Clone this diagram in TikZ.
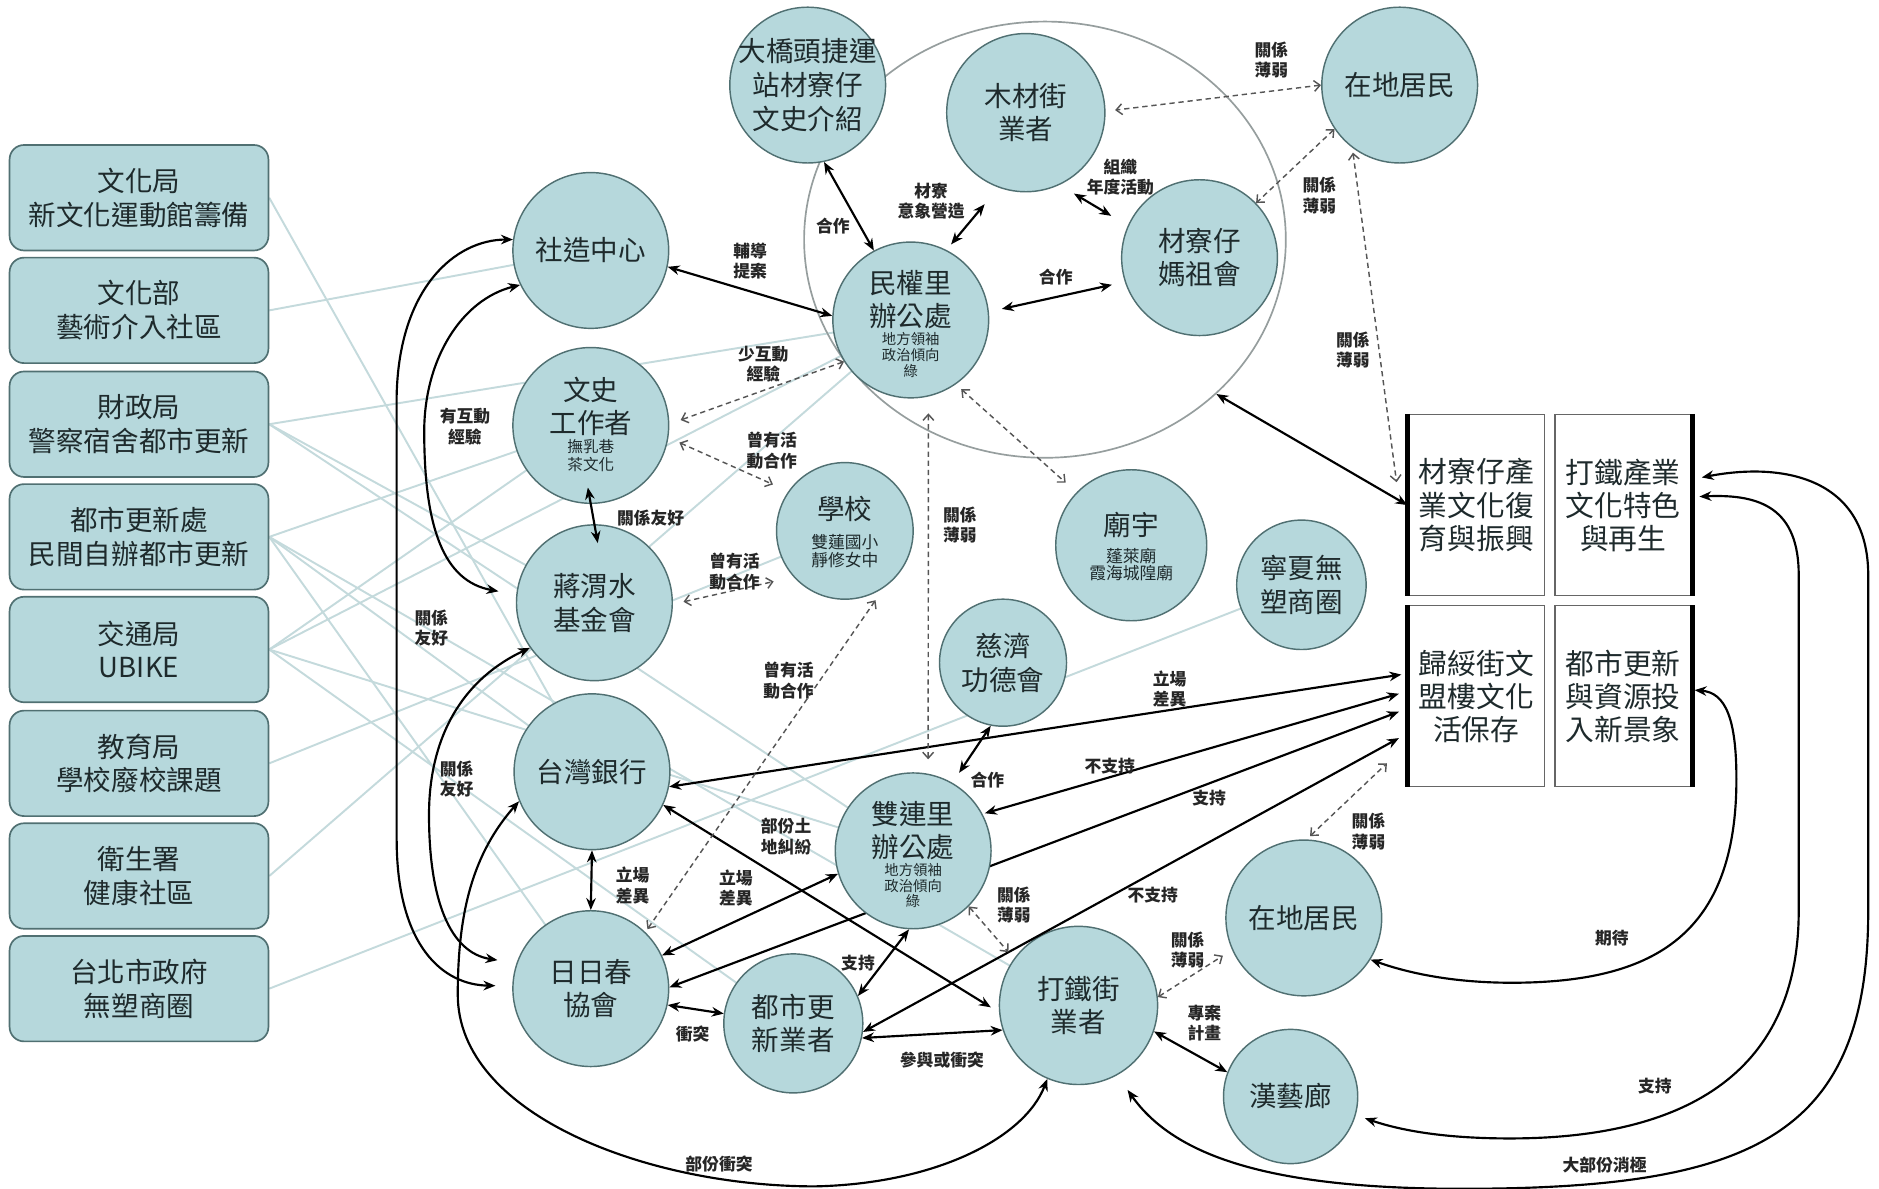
\documentclass[tikz,border=0pt]{standalone}
\usepackage{fontspec}
\setmainfont{Noto Sans CJK TC}
\usetikzlibrary{arrows.meta,backgrounds,shapes.geometric}
\definecolor{cfill}{RGB}{182,216,220}
\definecolor{cdraw}{RGB}{80,112,114}
\definecolor{gline}{RGB}{196,218,220}
\definecolor{ellc}{RGB}{150,158,158}
\definecolor{txt}{RGB}{30,42,44}
\definecolor{dcol}{RGB}{85,85,85}
\begin{document}
\begin{tikzpicture}[x=0.5pt,y=-0.5pt,
  >={Stealth[length=5pt,width=4pt]},
  circ/.style={circle,draw=cdraw,fill=cfill,line width=0.6pt,minimum size=65pt,inner sep=0pt},
  lab/.style={font=\fontsize{11.5}{14}\selectfont,align=center,text=txt,inner sep=0pt},
  sub/.style={font=\fontsize{6}{6.6}\selectfont,align=center,text=txt,inner sep=0pt},
  elab/.style={font=\fontsize{7}{8.5}\selectfont\bfseries,align=center,text=black!85,inner sep=0pt},
  lbox/.style={rectangle,rounded corners=6pt,draw=cdraw,fill=cfill,line width=0.7pt,minimum width=108pt,minimum height=44pt,inner sep=0pt,align=center,font=\fontsize{11.5}{14}\selectfont,text=txt},
  rbox/.style={rectangle,draw=black!60,line width=0.6pt,fill=white,minimum width=57pt,minimum height=75.5pt,inner sep=0pt,align=center,font=\fontsize{12}{13.8}\selectfont,text=txt},
  arr/.style={black,line width=0.9pt,<->},
  darr/.style={dcol,line width=0.6pt,dash pattern=on 2.2pt off 1.6pt,{Straight Barb[length=2.5pt,width=4.5pt]}-{Straight Barb[length=2.5pt,width=4.5pt]}},
  gl/.style={gline,line width=0.8pt}]
\useasboundingbox (0,0) rectangle (1568,992);

% big ellipse
\node[ellipse,draw=ellc,line width=0.7pt,minimum width=201pt,minimum height=182pt,inner sep=0pt] (bigell) at (872,200) {};

% left boxes
\node[lbox] (b1) at (116,165) {文化局\\新文化運動館籌備};
\node[lbox] (b2) at (116,259) {文化部\\藝術介入社區};
\node[lbox] (b3) at (116,354) {財政局\\警察宿舍都市更新};
\node[lbox] (b4) at (116,448) {都市更新處\\民間自辦都市更新};
\node[lbox] (b5) at (116,542) {交通局\\UBIKE};
\node[lbox] (b6) at (116,637) {教育局\\學校廢校課題};
\node[lbox] (b7) at (116,731) {衛生署\\健康社區};
\node[lbox] (b8) at (116,825) {台北市政府\\無塑商圈};

% circles
\node[circ,label={[lab]center:{大橋頭捷運\\站材寮仔\\文史介紹}}] (dqt) at (674,71) {};
\node[circ,minimum size=66pt,label={[lab]center:{木材街\\業者}}] (mcj) at (856,94) {};
\node[circ,label={[lab]center:{在地居民}}] (zdjm) at (1168,71) {};
\node[circ,label={[lab]center:{社造中心}}] (szzx) at (493,209) {};
\node[circ,label={[lab,yshift=8.5pt]center:{民權里\\辦公處}},label={[sub,yshift=-14.5pt]center:{地方領袖\\政治傾向\\綠}}] (mql) at (760,267) {};
\node[circ,label={[lab]center:{材寮仔\\媽祖會}}] (mzh) at (1001,215) {};
\node[circ,label={[lab,yshift=8pt]center:{文史\\工作者}},label={[sub,font=\fontsize{6.5}{7.5}\selectfont,yshift=-12.5pt]center:{撫乳巷\\茶文化}}] (wszzz) at (493,355) {};
\node[circ,label={[lab]center:{蔣渭水\\基金會}}] (jwj) at (496,503) {};
\node[circ,minimum size=57pt,label={[lab,yshift=9pt]center:{學校}},label={[sub,font=\fontsize{7}{7.2}\selectfont,yshift=-8.5pt]center:{雙蓮國小\\靜修女中}}] (school) at (705,443) {};
\node[circ,minimum size=63pt,label={[lab,yshift=8.5pt]center:{廟宇}},label={[sub,font=\fontsize{7}{7.2}\selectfont,yshift=-8pt]center:{蓬萊廟\\霞海城隍廟}}] (miao) at (944,455) {};
\node[circ,minimum size=54pt,label={[lab]center:{寧夏無\\塑商圈}}] (ningxia) at (1086,488) {};
\node[circ,minimum size=53pt,label={[lab]center:{慈濟\\功德會}}] (cj) at (837,553) {};
\node[circ,label={[lab]center:{台灣銀行}}] (tw) at (494,644) {};
\node[circ,label={[lab,yshift=8.5pt]center:{雙連里\\辦公處}},label={[sub,yshift=-14.5pt]center:{地方領袖\\政治傾向\\綠}}] (sllb) at (762,710) {};
\node[circ,label={[lab]center:{日日春\\協會}}] (rrc) at (493,825) {};
\node[circ,minimum size=58pt,label={[lab]center:{都市更\\新業者}}] (dsgx) at (662,854) {};
\node[circ,minimum size=66pt,label={[lab]center:{打鐵街\\業者}}] (dtj) at (900,839) {};
\node[circ,label={[lab]center:{在地居民}}] (zdjm2) at (1088,766) {};
\node[circ,minimum size=56pt,label={[lab]center:{漢藝廊}}] (hyl) at (1077,915) {};

% right boxes
\node[rbox] (r1) at (1232,421.5) {材寮仔產\\業文化復\\育與振興};
\node[rbox] (r2) at (1354.5,421.5) {打鐵產業\\文化特色\\與再生};
\node[rbox] (r3) at (1232,581) {歸綏街文\\盟樓文化\\活保存};
\node[rbox] (r4) at (1354.5,581) {都市更新\\與資源投\\入新景象};
\draw[line width=2.2pt] (r1.north west) -- (r1.south west);
\draw[line width=2.2pt] (r3.north west) -- (r3.south west);
\draw[line width=2.2pt] (r2.north east) -- (r2.south east);
\draw[line width=2.2pt] (r4.north east) -- (r4.south east);

% solid connectors
\draw[arr] (szzx.-12) -- (mql.177);
\draw[arr] (dqt.-78) -- (mql.118);
\draw[arr,shorten <=3pt,shorten >=9pt] (mql.63) -- (mcj.-110);
\draw[arr,shorten <=7pt,shorten >=8pt] (mcj.-65) -- (mzh.156);
\draw[arr,shorten <=5.5pt,shorten >=5.5pt] (mql.6) -- (mzh.-162);
\draw[arr] (bigell.-42) -- (r1.west);
\draw[arr,shorten <=-7pt,shorten >=-8pt] (wszzz.south) -- (jwj.north);
\draw[arr] (tw.south) -- (rrc.north);
\draw[arr] (tw.-11) -- ([shift={(-2.5pt,-29pt)}]r3.north west);
\draw[arr,shorten <=1pt] (sllb.28) -- ([shift={(-3.5pt,-37pt)}]r3.north west);
\draw[arr] (sllb.-163) -- (rrc.25);
\draw[arr] (dsgx.-7) -- ([shift={(-3.5pt,-55.5pt)}]r3.north west);
\draw[arr,shorten >=4pt] (tw.-25) -- (dtj.-175);
\draw[arr,shorten <=5pt] (sllb.60) -- (cj.-101);
\draw[arr] (sllb.-93) -- (dsgx.23);
\draw[arr] (rrc.-12) -- (dsgx.172);
\draw[arr] (dsgx.-12) -- (dtj.-162);
\draw[arr] (dtj.-19) -- (hyl.159);

% dashed connectors
\draw[darr,shorten >=4pt] (zdjm.180) -- (mcj.1);
\draw[darr] (zdjm.-146) -- (mzh.44);
\draw[darr,shorten <=2pt] (zdjm.-127) -- ([shift={(-4.5pt,-28.5pt)}]r1.north west);
\draw[darr,shorten >=5pt] (mql.-148) -- (wszzz.1);
\draw[darr,shorten <=5pt,shorten >=7pt] (wszzz.-9) -- (school.145);
\draw[darr,shorten <=7pt,shorten >=6pt] (mql.-77) -- (sllb.79);
\draw[darr,shorten <=3pt,shorten >=6pt] (mql.-55) -- (miao.136);
\draw[darr,shorten <=4.5pt,shorten >=8.5pt] (jwj.-1) -- (school.-138);
\draw[darr,shorten <=1.5pt,shorten >=6.5pt] (rrc.46) -- (school.-55);
\draw[darr,shorten >=3.5pt] (sllb.-45) -- (dtj.144);
\draw[darr,shorten >=4.5pt] (dtj.6) -- (zdjm2.-156);
\draw[darr,shorten <=2pt] (zdjm2.88) -- ([shift={(-8.5pt,-66pt)}]r3.north west);

% curved connectors
\draw[arr,shorten >=7pt] (szzx.172) .. controls (380,200) and (333,240) .. (331,330) -- (331,700) .. controls (331,790) and (370,822) .. (rrc.178);
\draw[arr,shorten >=7.5pt] (szzx.-154) .. controls (385,250) and (354,300) .. (354,360) .. controls (354,440) and (370,485) .. (jwj.174);
\draw[arr,shorten >=8pt] (jwj.-145) .. controls (390,565) and (358,610) .. (358,680) .. controls (358,750) and (375,795) .. (rrc.161);
\draw[arr] (tw.-158) .. controls (395,712) and (382,760) .. (382,830) .. controls (382,930) and (540,990) .. (680,990) .. controls (780,988) and (855,950) .. (dtj.-113);
\draw[arr,shorten >=7.5pt] ([shift={(4pt,-26.5pt)}]r2.north east) .. controls (1490,385) and (1559,400) .. (1559,480) -- (1559,760) .. controls (1559,950) and (1460,992) .. (1220,992) .. controls (1060,992) and (980,965) .. (dtj.-61);
\draw[arr,shorten >=4pt] ([shift={(3pt,-34.5pt)}]r2.north east) .. controls (1470,412) and (1501,425) .. (1501,480) -- (1501,760) .. controls (1501,900) and (1400,950) .. (1260,950) .. controls (1200,950) and (1165,942) .. (hyl.-16);
\draw[arr] ([shift={(1pt,-35.5pt)}]r4.north east) .. controls (1440,578) and (1449,600) .. (1449,650) .. controls (1449,780) and (1380,818) .. (1270,820) .. controls (1215,821) and (1175,812) .. (zdjm2.-32);

% edge labels
\node[elab] (e1) at (626,218) {輔導\\提案};
\node[elab] (e2) at (695,189) {合作};
\node[elab] (e3) at (777,168) {材寮\\意象營造};
\node[elab] (e4) at (935,148) {組織\\年度活動};
\node[elab] (e5) at (881,231) {合作};
\node[elab] (e6) at (1061,50) {關係\\薄弱};
\node[elab] (e7) at (1101,163) {關係\\薄弱};
\node[elab] (e8) at (1129,292) {關係\\薄弱};
\node[elab] (e9) at (637,304) {少互動\\經驗};
\node[elab] (e10) at (644,376) {曾有活\\動合作};
\node[elab] (e11) at (543,432) {關係友好};
\node[elab] (e12) at (388,356) {有互動\\經驗};
\node[elab] (e13) at (360,524) {關係\\友好};
\node[elab] (e14) at (381,650) {關係\\友好};
\node[elab] (e15) at (613,477) {曾有活\\動合作};
\node[elab] (e16) at (658,568) {曾有活\\動合作};
\node[elab] (e17) at (801,438) {關係\\薄弱};
\node[elab] (e18) at (976,575) {立場\\差異};
\node[elab] (e19) at (926,639) {不支持};
\node[elab] (e20) at (1009,666) {支持};
\node[elab] (e21) at (962,747) {不支持};
\node[elab] (e22) at (1142,694) {關係\\薄弱};
\node[elab] (e23) at (656,698) {部份土\\地糾紛};
\node[elab] (e24) at (824,651) {合作};
\node[elab] (e25) at (528,739) {立場\\差異};
\node[elab] (e26) at (614,741) {立場\\差異};
\node[elab] (e27) at (716,804) {支持};
\node[elab] (e28) at (846,755) {關係\\薄弱};
\node[elab] (e29) at (578,863) {衝突};
\node[elab] (e30) at (786,885) {參與或衝突};
\node[elab] (e31) at (600,971) {部份衝突};
\node[elab] (e32) at (991,793) {關係\\薄弱};
\node[elab] (e33) at (1005,854) {專案\\計畫};
\node[elab] (e34) at (1345,783) {期待};
\node[elab] (e35) at (1381,906) {支持};
\node[elab] (e36) at (1339,972) {大部份消極};

% background: white, light grey links from the left boxes, and the link hidden behind 雙連里
\begin{scope}[on background layer]
\fill[white] (0,0) rectangle (1568,992);
\draw[gl] (b1.east) -- (tw.center);
\draw[gl] (b2.east) -- (szzx.center);
\draw[gl] (b3.east) -- (mql.center);
\draw[gl] (b3.east) -- (jwj.center);
\draw[gl] (b3.east) -- (sllb.center);
\draw[gl] (b4.east) -- (wszzz.center);
\draw[gl] (b4.east) -- (tw.center);
\draw[gl] (b4.east) -- (dtj.center);
\draw[gl] (b4.east) -- (rrc.center);
\draw[gl] (b5.east) -- (wszzz.center);
\draw[gl] (b5.east) -- (mql.center);
\draw[gl] (b5.east) -- (sllb.center);
\draw[gl] (b5.east) -- (dsgx.center);
\draw[gl] (b6.east) -- (school.center);
\draw[gl] (b7.east) -- (mql.center);
\draw[gl] (b8.east) -- (ningxia.center);
\draw[arr] (rrc.1) -- ([shift={(-3.5pt,-44.5pt)}]r3.north west);
\end{scope}
\end{tikzpicture}
\end{document}
